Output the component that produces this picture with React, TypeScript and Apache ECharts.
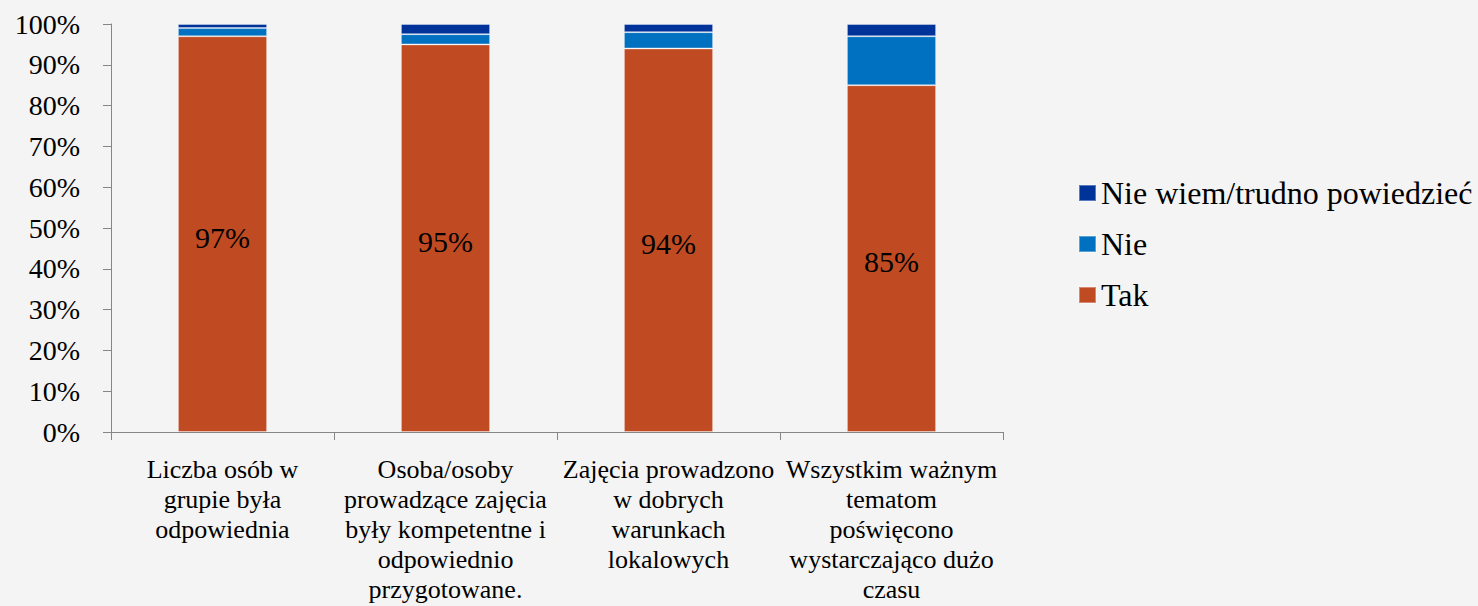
import React, { useEffect, useRef } from "react";
import * as echarts from "echarts";

const categories = [
  "Liczba osób w\ngrupie była\nodpowiednia",
  "Osoba/osoby\nprowadzące zajęcia\nbyły kompetentne i\nodpowiednio\nprzygotowane.",
  "Zajęcia prowadzono\nw dobrych\nwarunkach\nlokalowych",
  "Wszystkim ważnym\ntematom\npoświęcono\nwystarczająco dużo\nczasu",
];
const takValues = [97, 95, 94, 85];
const nieValues = [2, 2.5, 4, 12];
const nieWiemValues = [1, 2.5, 2, 3];
const seriesNames = ["Nie wiem/trudno powiedzieć", "Nie", "Tak"];

const FONT = "'Liberation Serif', 'Times New Roman', serif";

export default function App() {
  const ref = useRef<HTMLDivElement>(null);
  useEffect(() => {
    document.body.style.margin = "0";
    const chart = echarts.init(ref.current!, null, { renderer: "svg" });
    const barCommon = {
      type: "bar" as const,
      stack: "total",
      barWidth: "40%",
      itemStyle: { borderColor: "rgba(255,255,255,0.35)", borderWidth: 1 },
    };
    chart.setOption({
      animation: false,
      backgroundColor: "#f4f4f4",
      textStyle: { fontFamily: FONT },
      grid: {
        left: 111,
        right: 475,
        top: 24,
        bottom: 174,
        containLabel: false,
        outerBoundsMode: "none",
      },
      legend: {
        orient: "vertical",
        left: 1073,
        top: 171,
        data: seriesNames,
        itemWidth: 17,
        itemHeight: 16,
        itemGap: 17,
        icon: "rect",
        textStyle: { fontSize: 32, color: "#000", fontFamily: FONT, lineHeight: 34 },
      },
      xAxis: {
        type: "category",
        data: categories,
        axisLine: { lineStyle: { color: "#868686" } },
        axisTick: { show: true, length: 8, lineStyle: { color: "#868686" } },
        axisLabel: {
          interval: 0,
          fontSize: 26,
          lineHeight: 30,
          color: "#000",
          fontFamily: FONT,
          margin: 22,
        },
      },
      yAxis: {
        type: "value",
        min: 0,
        max: 100,
        interval: 10,
        axisLine: { show: true, lineStyle: { color: "#868686" } },
        axisTick: { show: true, length: 8, lineStyle: { color: "#868686" } },
        splitLine: { show: false },
        axisLabel: {
          formatter: "{value}%",
          fontSize: 28,
          color: "#000",
          fontFamily: FONT,
          margin: 31,
        },
      },
      series: [
        {
          ...barCommon,
          name: "Tak",
          data: takValues,
          itemStyle: { ...barCommon.itemStyle, color: "#c04b22" },
          label: {
            show: true,
            position: "inside",
            offset: [0, 3],
            formatter: "{c}%",
            fontSize: 30,
            color: "#000",
            fontFamily: FONT,
          },
        },
        {
          ...barCommon,
          name: "Nie",
          data: nieValues,
          itemStyle: { ...barCommon.itemStyle, color: "#0070c0" },
        },
        {
          ...barCommon,
          name: "Nie wiem/trudno powiedzieć",
          data: nieWiemValues,
          itemStyle: { ...barCommon.itemStyle, color: "#003399" },
        },
      ],
    });
    return () => chart.dispose();
  }, []);
  return (
    <div
      ref={ref}
      style={{ position: "absolute", left: 0, top: 0, width: 1478, height: 606 }}
    />
  );
}
